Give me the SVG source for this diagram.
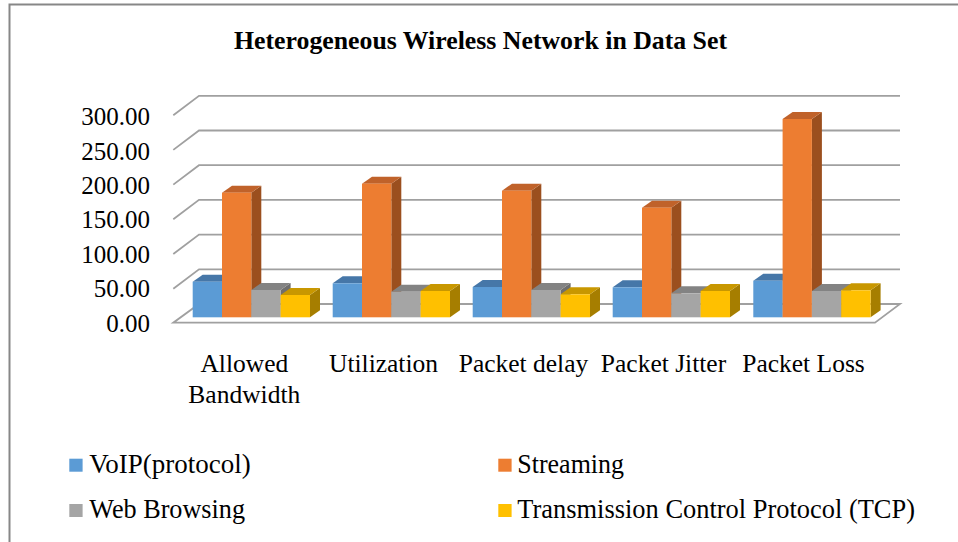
<svg xmlns="http://www.w3.org/2000/svg" width="958" height="542" viewBox="0 0 958 542">
<style>
text{font-family:"Liberation Serif","Times New Roman",serif;fill:#000}
.t{font-size:25.7px;font-weight:bold}
.y{font-size:25px;text-anchor:end}
.c{font-size:25.5px;text-anchor:middle}
.l{font-size:26.5px}
.g{fill:none;stroke:#A0A0A0;stroke-width:1.8}
.bf{fill:#5B9BD5}.bt{fill:#4677A8}.bs{fill:#3E6A97}
.of{fill:#ED7D31}.ot{fill:#C0622A}.os{fill:#9B4F1E}
.gf{fill:#A5A5A5}.gt{fill:#838383}.gs{fill:#6E6E6E}
.yf{fill:#FFC000}.yt{fill:#C89700}.ys{fill:#A67E00}
</style>
<rect width="958" height="542" fill="#fff"/>
<path d="M9.5,542 V4.5 H958" fill="none" stroke="#878787" stroke-width="2"/>
<text class="t" x="234" y="48.5" textLength="493" lengthAdjust="spacingAndGlyphs">Heterogeneous Wireless Network in Data Set</text>
<g id="axis">
<polygon points="173.3,322.7 875,322.7 900,304 199,304" fill="#fff" stroke="#A0A0A0" stroke-width="1.8"/>
<polyline class="g" points="173.3,288.7 199,269.3 900,269.3"/>
<polyline class="g" points="173.3,254 199,234.6 900,234.6"/>
<polyline class="g" points="173.3,219.3 199,199.9 900,199.9"/>
<polyline class="g" points="173.3,184.6 199,165.2 900,165.2"/>
<polyline class="g" points="173.3,149.9 199,130.5 900,130.5"/>
<polyline class="g" points="173.3,115.2 199,95.8 900,95.8"/>
<text class="y" x="150" y="125">300.00</text>
<text class="y" x="150" y="159.5">250.00</text>
<text class="y" x="150" y="193.9">200.00</text>
<text class="y" x="150" y="228.4">150.00</text>
<text class="y" x="150" y="262.8">100.00</text>
<text class="y" x="150" y="297.3">50.00</text>
<text class="y" x="150" y="331.7">0.00</text>
</g>
<g id="cat1">
<polygon class="bs" points="222,281.7 232,274.7 232,310.3 222,317.3"/><polygon class="bt" points="192.7,281.7 222,281.7 232,274.7 202.7,274.7"/><rect class="bf" x="192.7" y="281.7" width="29.3" height="35.6"/>
<polygon class="os" points="251.3,192.7 261.3,185.7 261.3,310.3 251.3,317.3"/><polygon class="ot" points="222,192.7 251.3,192.7 261.3,185.7 232,185.7"/><rect class="of" x="222" y="192.7" width="29.3" height="124.6"/>
<polygon class="gs" points="280.6,290 290.6,283 290.6,310.3 280.6,317.3"/><polygon class="gt" points="251.3,290 280.6,290 290.6,283 261.3,283"/><rect class="gf" x="251.3" y="290" width="29.3" height="27.3"/>
<polygon class="ys" points="310,295 320,288 320,310.3 310,317.3"/><polygon class="yt" points="280.6,295 310,295 320,288 290.6,288"/><rect class="yf" x="280.6" y="295" width="29.4" height="22.3"/>
</g>
<g id="cat2">
<polygon class="bs" points="362,283.3 372,276.3 372,310.3 362,317.3"/><polygon class="bt" points="332.7,283.3 362,283.3 372,276.3 342.7,276.3"/><rect class="bf" x="332.7" y="283.3" width="29.3" height="34"/>
<polygon class="os" points="391.3,183.7 401.3,176.7 401.3,310.3 391.3,317.3"/><polygon class="ot" points="362,183.7 391.3,183.7 401.3,176.7 372,176.7"/><rect class="of" x="362" y="183.7" width="29.3" height="133.6"/>
<polygon class="gs" points="420.6,291.7 430.6,284.7 430.6,310.3 420.6,317.3"/><polygon class="gt" points="391.3,291.7 420.6,291.7 430.6,284.7 401.3,284.7"/><rect class="gf" x="391.3" y="291.7" width="29.3" height="25.6"/>
<polygon class="ys" points="450,291 460,284 460,310.3 450,317.3"/><polygon class="yt" points="420.6,291 450,291 460,284 430.6,284"/><rect class="yf" x="420.6" y="291" width="29.4" height="26.3"/>
</g>
<g id="cat3">
<polygon class="bs" points="502,287 512,280 512,310.3 502,317.3"/><polygon class="bt" points="472.7,287 502,287 512,280 482.7,280"/><rect class="bf" x="472.7" y="287" width="29.3" height="30.3"/>
<polygon class="os" points="531.3,190.7 541.3,183.7 541.3,310.3 531.3,317.3"/><polygon class="ot" points="502,190.7 531.3,190.7 541.3,183.7 512,183.7"/><rect class="of" x="502" y="190.7" width="29.3" height="126.6"/>
<polygon class="gs" points="560.6,290 570.6,283 570.6,310.3 560.6,317.3"/><polygon class="gt" points="531.3,290 560.6,290 570.6,283 541.3,283"/><rect class="gf" x="531.3" y="290" width="29.3" height="27.3"/>
<polygon class="ys" points="590,294.3 600,287.3 600,310.3 590,317.3"/><polygon class="yt" points="560.6,294.3 590,294.3 600,287.3 570.6,287.3"/><rect class="yf" x="560.6" y="294.3" width="29.4" height="23"/>
</g>
<g id="cat4">
<polygon class="bs" points="642,287.3 652,280.3 652,310.3 642,317.3"/><polygon class="bt" points="612.7,287.3 642,287.3 652,280.3 622.7,280.3"/><rect class="bf" x="612.7" y="287.3" width="29.3" height="30"/>
<polygon class="os" points="671.3,207.7 681.3,200.7 681.3,310.3 671.3,317.3"/><polygon class="ot" points="642,207.7 671.3,207.7 681.3,200.7 652,200.7"/><rect class="of" x="642" y="207.7" width="29.3" height="109.6"/>
<polygon class="gs" points="700.6,293.3 710.6,286.3 710.6,310.3 700.6,317.3"/><polygon class="gt" points="671.3,293.3 700.6,293.3 710.6,286.3 681.3,286.3"/><rect class="gf" x="671.3" y="293.3" width="29.3" height="24"/>
<polygon class="ys" points="730,291 740,284 740,310.3 730,317.3"/><polygon class="yt" points="700.6,291 730,291 740,284 710.6,284"/><rect class="yf" x="700.6" y="291" width="29.4" height="26.3"/>
</g>
<g id="cat5">
<polygon class="bs" points="782.6,280.7 792.6,273.7 792.6,310.3 782.6,317.3"/><polygon class="bt" points="753.3,280.7 782.6,280.7 792.6,273.7 763.3,273.7"/><rect class="bf" x="753.3" y="280.7" width="29.3" height="36.6"/>
<polygon class="os" points="811.9,119 821.9,112 821.9,310.3 811.9,317.3"/><polygon class="ot" points="782.6,119 811.9,119 821.9,112 792.6,112"/><rect class="of" x="782.6" y="119" width="29.3" height="198.3"/>
<polygon class="gs" points="841.2,291 851.2,284 851.2,310.3 841.2,317.3"/><polygon class="gt" points="811.9,291 841.2,291 851.2,284 821.9,284"/><rect class="gf" x="811.9" y="291" width="29.3" height="26.3"/>
<polygon class="ys" points="870.6,290.3 880.6,283.3 880.6,310.3 870.6,317.3"/><polygon class="yt" points="841.2,290.3 870.6,290.3 880.6,283.3 851.2,283.3"/><rect class="yf" x="841.2" y="290.3" width="29.4" height="27"/>
</g>
<g id="categories">
<text class="c" x="244.3" y="371.7">Allowed</text>
<text class="c" x="244.3" y="403.3">Bandwidth</text>
<text class="c" x="383.5" y="371.7">Utilization</text>
<text class="c" x="523.5" y="371.7">Packet delay</text>
<text class="c" x="663.5" y="371.7">Packet Jitter</text>
<text class="c" x="803.5" y="371.7">Packet Loss</text>
</g>
<g id="legend">
<rect class="bf" x="69.3" y="458.7" width="13.3" height="13"/>
<text class="l" x="89.3" y="472.5" textLength="161.4" lengthAdjust="spacingAndGlyphs">VoIP(protocol)</text>
<rect class="of" x="498.3" y="458.7" width="13.3" height="13"/>
<text class="l" x="517.3" y="472.5" textLength="106.7" lengthAdjust="spacingAndGlyphs">Streaming</text>
<rect class="gf" x="69.3" y="504" width="13.3" height="13"/>
<text class="l" x="89.3" y="517.8" textLength="155.7" lengthAdjust="spacingAndGlyphs">Web Browsing</text>
<rect class="yf" x="498.3" y="504" width="13.3" height="13"/>
<text class="l" x="517.3" y="517.8" textLength="397.7" lengthAdjust="spacingAndGlyphs">Transmission Control Protocol (TCP)</text>
</g>
</svg>
